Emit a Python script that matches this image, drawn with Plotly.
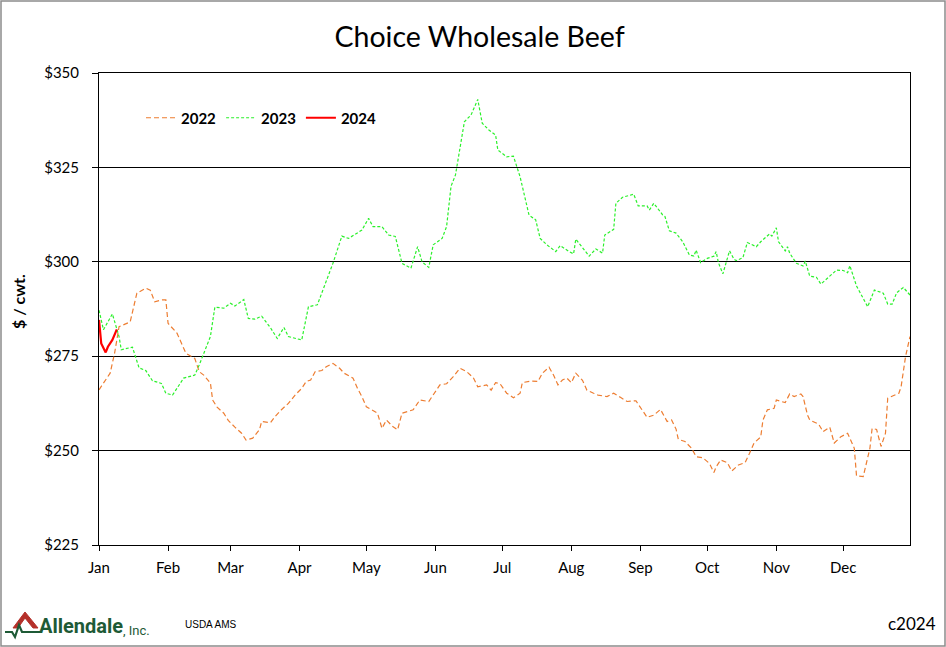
import plotly.graph_objects as go

# ---------------- data (day of year, $/cwt) ----------------
days_2022 = [0, 5, 7, 9, 14, 17, 21, 23, 25, 28, 30, 31, 35, 39, 43, 45, 47, 50, 51, 53, 56, 58,
             61, 64, 66, 69, 72, 73, 77, 79, 82, 85, 88, 91, 93, 95, 97, 100, 102, 105, 108, 110,
             114, 116, 118, 120, 125, 127, 129, 132, 134, 136, 141, 144, 148, 151, 153, 156, 159,
             162, 165, 168, 170, 174, 176, 178, 180, 183, 186, 189, 190, 194, 197, 199, 202, 204,
             206, 208, 210, 212, 214, 217, 219, 222, 224, 228, 231, 234, 237, 241, 243, 246, 249,
             252, 255, 257, 259, 260, 263, 266, 268, 271, 274, 276, 277, 279, 282, 284, 287, 290,
             292, 294, 297, 298, 300, 303, 304, 308, 310, 312, 315, 316, 318, 319, 323, 325, 328,
             330, 333, 336, 339, 340, 343, 345, 346, 347, 349, 351, 353, 354, 359, 360, 362, 364]
vals_2022 = [266.1, 270.5, 275.8, 282.8, 284.1, 291.7, 293.0, 292.5, 289.4, 289.9, 289.9, 283.7,
             281.1, 275.8, 274.4, 270.9, 270.0, 267.9, 263.4, 261.5, 259.9, 258.0, 256.2, 254.6,
             252.8, 253.3, 255.5, 257.7, 257.4, 259.0, 260.9, 262.5, 264.7, 266.5, 268.3, 268.7,
             270.9, 271.2, 272.2, 273.1, 271.8, 270.5, 269.2, 266.5, 264.3, 261.6, 259.9, 255.9,
             258.1, 256.3, 255.5, 259.9, 260.8, 263.4, 263.0, 265.6, 267.4, 267.7, 269.6, 271.8,
             270.9, 269.3, 266.9, 267.4, 266.0, 268.0, 267.7, 265.2, 264.0, 265.2, 268.0, 268.4,
             268.3, 270.5, 272.1, 270.0, 267.4, 268.7, 269.2, 268.0, 270.5, 268.6, 266.0, 265.2,
             264.7, 264.3, 265.2, 264.1, 263.0, 263.2, 261.5, 258.8, 259.4, 260.9, 257.7, 258.1,
             255.7, 253.0, 252.4, 250.6, 248.4, 248.1, 246.6, 244.2, 245.7, 247.5, 246.8, 244.6,
             246.2, 246.8, 249.3, 252.0, 253.6, 258.1, 260.8, 261.2, 263.4, 262.7, 265.0, 264.3,
             265.0, 264.3, 259.4, 258.1, 257.0, 255.0, 256.2, 252.0, 253.7, 254.6, 250.6, 243.3,
             243.1, 248.4, 250.6, 255.9, 255.6, 251.1, 254.6, 263.9, 265.2, 266.9, 274.9, 280.2]

days_2023 = [0, 2, 6, 9, 10, 15, 18, 21, 24, 28, 30, 33, 38, 43, 45, 50, 52, 56, 59, 61, 65, 67,
             70, 73, 77, 80, 83, 85, 91, 94, 98, 105, 109, 112, 118, 121, 123, 127, 130, 133, 136,
             140, 143, 145, 148, 150, 154, 156, 158, 160, 164, 167, 170, 172, 175, 178, 179, 183,
             186, 189, 193, 196, 198, 201, 205, 207, 211, 213, 214, 217, 220, 223, 226, 227, 231,
             232, 235, 240, 242, 246, 247, 249, 253, 254, 256, 259, 262, 265, 267, 268, 270, 273,
             276, 277, 278, 280, 283, 285, 286, 289, 291, 295, 297, 301, 302, 304, 305, 308, 309,
             310, 313, 316, 317, 319, 322, 324, 328, 331, 334, 336, 337, 340, 345, 348, 352, 354,
             356, 358, 361, 364]
vals_2023 = [287.2, 282.0, 286.2, 280.2, 276.7, 277.4, 271.9, 271.2, 268.5, 267.8, 265.2, 264.7,
             269.2, 270.0, 272.7, 280.2, 288.0, 287.7, 289.0, 288.3, 290.0, 285.0, 284.8, 285.6,
             282.5, 279.7, 282.6, 280.2, 279.3, 288.1, 288.6, 299.6, 306.8, 306.2, 308.4, 311.5,
             309.3, 309.3, 307.1, 306.7, 299.6, 298.3, 304.0, 300.0, 298.5, 304.5, 306.2, 309.3,
             320.0, 323.0, 337.1, 338.9, 343.0, 336.7, 334.9, 333.6, 329.6, 327.8, 328.0, 322.5,
             312.4, 311.1, 306.2, 304.5, 302.7, 304.3, 302.7, 302.1, 306.0, 303.6, 301.5, 303.4,
             302.3, 307.1, 308.6, 315.5, 317.1, 317.9, 314.8, 314.8, 313.7, 315.5, 312.4, 312.0,
             308.2, 307.6, 305.3, 301.8, 301.5, 303.1, 299.8, 300.9, 301.5, 302.7, 299.8, 296.8,
             302.9, 300.7, 300.3, 301.1, 305.1, 304.0, 305.3, 307.4, 306.8, 309.0, 305.3, 302.9,
             304.0, 302.3, 299.6, 298.9, 300.2, 296.2, 295.9, 294.1, 296.2, 297.8, 297.7, 297.1,
             299.0, 293.6, 288.1, 292.5, 291.7, 288.8, 288.8, 291.8, 293.2, 291.2]

days_2024 = [0, 1, 3, 4, 6, 8]
vals_2024 = [284.6, 278.4, 276.0, 277.5, 279.3, 282.1]

month_days = [0, 31, 59, 90, 120, 151, 181, 212, 243, 273, 304, 334]
month_labels = ["Jan", "Feb", "Mar", "Apr", "May", "Jun", "Jul", "Aug", "Sep", "Oct", "Nov", "Dec"]
y_ticks = [225, 250, 275, 300, 325, 350]

# ---------------- geometry helpers ----------------
L, R, T, B = 99, 910, 73, 545
W, H = 946, 647


def px(x):
    return (x - L) / (R - L)


def py(y):
    return (B - y) / (B - T)


FONT = "Lato"

fig = go.Figure()
fig.add_trace(go.Scatter(x=days_2022, y=vals_2022, mode="lines", name="2022",
                         line=dict(color="#ED7D31", width=1.2, dash="5px,3px")))
fig.add_trace(go.Scatter(x=days_2023, y=vals_2023, mode="lines", name="2023",
                         line=dict(color="#2BF02B", width=1.2, dash="3px,2px")))
fig.add_trace(go.Scatter(x=days_2024, y=vals_2024, mode="lines", name="2024",
                         line=dict(color="#FF0000", width=2.2)))

fig.update_layout(
    width=W, height=H,
    margin=dict(l=L, r=W - R, t=T, b=H - B),
    paper_bgcolor="white", plot_bgcolor="white",
    font=dict(family=FONT, color="black", size=14),
    title=dict(text="Choice Wholesale Beef", x=0.507, xanchor="center", y=0.943, yanchor="middle",
               font=dict(family=FONT, size=28.5, color="black")),
    showlegend=True,
    legend=dict(orientation="h", x=px(141), xanchor="left", y=py(118), yanchor="middle",
                font=dict(family=FONT, size=15, color="black", weight="bold"),
                bgcolor="rgba(0,0,0,0)", itemwidth=30, tracegroupgap=0),
)

fig.update_xaxes(range=[0, 364], tickmode="array", tickvals=month_days, ticktext=month_labels,
                 showgrid=False, zeroline=False, showline=True, linecolor="black", linewidth=1,
                 mirror=True, ticks="outside", ticklen=5, tickcolor="black", ticklabelstandoff=4,
                 tickfont=dict(family=FONT, size=15))
fig.update_yaxes(range=[225, 350], tickmode="array", tickvals=y_ticks,
                 ticktext=["$%d" % v for v in y_ticks],
                 showgrid=True, gridcolor="black", gridwidth=1, zeroline=False,
                 showline=True, linecolor="black", linewidth=1, mirror=True,
                 ticks="outside", ticklen=6, tickcolor="black", ticklabelstandoff=10,
                 tickfont=dict(family=FONT, size=15))

# y-axis title
fig.add_annotation(text="<b>$ / cwt.</b>", xref="paper", yref="paper", x=px(18), y=py(302),
                   xanchor="center", yanchor="middle",
                   showarrow=False, textangle=-90, font=dict(family=FONT, size=16, color="black"))

# footer texts
fig.add_annotation(text="USDA AMS", xref="paper", yref="paper", x=px(183), y=py(624),
                   xanchor="left", yanchor="middle", showarrow=False,
                   font=dict(family="Liberation Sans", size=10, color="black"))
fig.add_annotation(text="c2024", xref="paper", yref="paper", x=px(938), y=py(623),
                   xanchor="right", yanchor="middle", showarrow=False,
                   font=dict(family=FONT, size=17, color="black"))

# logo
fig.add_shape(type="path", xref="paper", yref="paper",
              path="M %f,%f L %f,%f L %f,%f L %f,%f L %f,%f L %f,%f Z" % (
                  px(13), py(628), px(25), py(612), px(38), py(628),
                  px(33), py(628), px(25), py(618), px(18), py(628)),
              fillcolor="#B5302A", line=dict(color="#B5302A", width=1))
fig.add_shape(type="path", xref="paper", yref="paper",
              path="M %f,%f L %f,%f L %f,%f L %f,%f L %f,%f L %f,%f" % (
                  px(5), py(632), px(12), py(632), px(15), py(637),
                  px(19), py(625), px(22), py(632), px(42), py(632)),
              line=dict(color="#1E5A36", width=2.2))
fig.add_annotation(text="<b>Allendale</b>", xref="paper", yref="paper", x=px(37), y=py(626),
                   xanchor="left", yanchor="middle", showarrow=False,
                   font=dict(family="Roboto", size=20, color="#1E5A36"))
fig.add_annotation(text=", Inc.", xref="paper", yref="paper", x=px(121), y=py(630),
                   xanchor="left", yanchor="middle", showarrow=False,
                   font=dict(family="Roboto", size=13, color="#1E5A36"))

# outer chart border
fig.add_shape(type="rect", xref="paper", yref="paper",
              x0=px(1), x1=px(945), y0=py(646), y1=py(1),
              line=dict(color="#8C8C8C", width=1.5), fillcolor="rgba(0,0,0,0)")

fig.write_html("out.html", config={"displayModeBar": False},
               post_script="document.body.style.margin='0';document.body.style.padding='0';")
